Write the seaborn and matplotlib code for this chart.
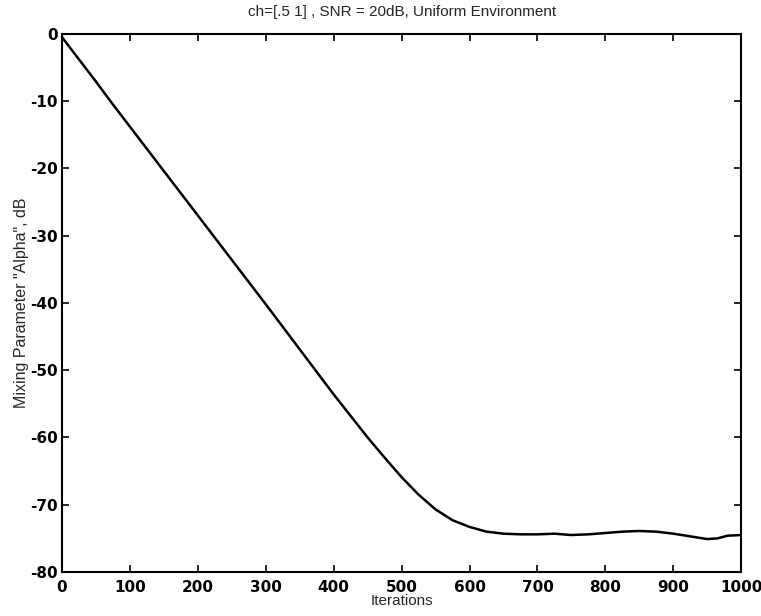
import matplotlib
matplotlib.use("Agg")
import matplotlib.pyplot as plt
import seaborn as sns
import pandas as pd

# Learning curve of the mixing parameter (dB) versus iteration count
iterations = [0, 25, 50, 75, 100, 150, 200, 250, 300, 350, 400, 450, 475,
              500, 525, 550, 575, 600, 625, 650, 675, 700, 725, 750, 775,
              800, 825, 850, 875, 900, 925, 950, 965, 980, 1000]
alpha_db = [-0.5, -3.8, -7.1, -10.5, -13.8, -20.4, -27.0, -33.6, -40.2,
            -46.9, -53.6, -60.0, -63.0, -65.9, -68.5, -70.7, -72.3, -73.3,
            -74.0, -74.3, -74.4, -74.4, -74.3, -74.5, -74.4, -74.2, -74.0,
            -73.9, -74.0, -74.3, -74.7, -75.1, -75.0, -74.6, -74.5]

x_ticks = list(range(0, 1001, 100))
y_ticks = list(range(-80, 1, 10))

df = pd.DataFrame({"Iterations": iterations, "alpha": alpha_db})

sns.set_style("ticks")
plt.rcParams["font.family"] = ["Liberation Sans", "DejaVu Sans"]

fig = plt.figure(figsize=(7.61, 6.16), dpi=100)
ax = fig.add_axes([0.0815, 0.0714, 0.8925, 0.8736])

sns.lineplot(data=df, x="Iterations", y="alpha", color="black",
             linewidth=1.8, ax=ax)

ax.set_xlim(0, 1000)
ax.set_ylim(-80, 0)
ax.set_xticks(x_ticks)
ax.set_yticks(y_ticks)
ax.set_xticklabels([str(t) for t in x_ticks], fontsize=11,
                   fontweight="bold", family="DejaVu Sans")
ax.set_yticklabels([str(t) for t in y_ticks],
                   fontsize=11, fontweight="bold", family="DejaVu Sans")
ax.tick_params(axis="x", pad=6)
ax.tick_params(axis="y", pad=3)
ax.tick_params(direction="in", length=5, width=1.2, top=True, right=True,
               colors="black")
for side in ax.spines.values():
    side.set_visible(True)
    side.set_linewidth(1.5)
    side.set_color("black")

ax.set_xlabel("Iterations", fontsize=11, labelpad=-1)
ax.set_ylabel('Mixing Parameter "Alpha", dB', fontsize=11.5, labelpad=1)
ax.set_title("ch=[.5 1] , SNR = 20dB, Uniform Environment", fontsize=11,
             pad=13)

fig.savefig("out.png", dpi=100)
